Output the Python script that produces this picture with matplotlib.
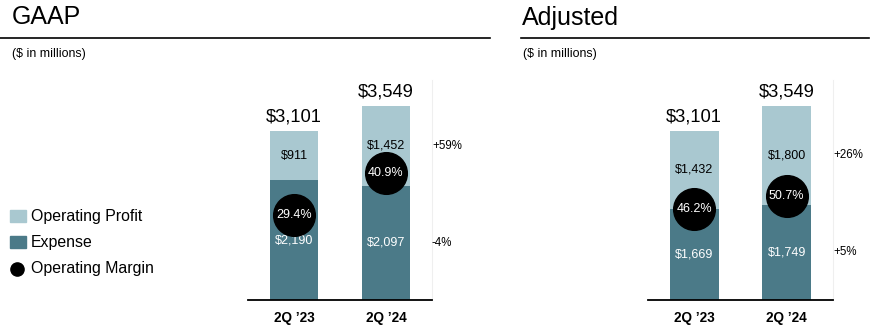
import matplotlib
matplotlib.use("Agg")
import matplotlib.pyplot as plt
from matplotlib.patches import Rectangle
from matplotlib.lines import Line2D

plt.rcParams["font.family"] = ["Liberation Sans", "DejaVu Sans"]

# data
quarters = ["2Q \u201923", "2Q \u201924"]

gaap_expense = [2190, 2097]
gaap_profit = [911, 1452]
gaap_margin = [29.4, 40.9]
gaap_change = ["+59%", "-4%"]  # profit, expense

adj_expense = [1669, 1749]
adj_profit = [1432, 1800]
adj_margin = [46.2, 50.7]
adj_change = ["+26%", "+5%"]

LIGHT = "#A9C8D0"
DARK = "#4B7A88"

W, H = 877, 330
fig = plt.figure(figsize=(W / 100, H / 100), dpi=100)


def fx(px):
    return px / W


def fy(py):
    return 1 - py / H


def draw_panel(left_px, right_px, expense, profit, margin, change, margin_lim):
    ax = fig.add_axes([fx(left_px), fy(300), fx(right_px - left_px), fy(80) - fy(300)])
    x = list(range(len(quarters)))
    ax.bar(x, expense, width=0.525, color=DARK)
    ax.bar(x, profit, bottom=expense, width=0.525, color=LIGHT)
    ax.set_xlim(-0.5, 1.5)
    ax.set_ylim(0, 4030)

    for i in x:
        total = expense[i] + profit[i]
        ax.annotate(f"${total:,}", (i, total), xytext=(0, 4), textcoords="offset points",
                    ha="center", va="bottom", fontsize=13.2)
        ax.text(i, expense[i] / 2, f"${expense[i]:,}", ha="center", va="center",
                color="white", fontsize=9)
        ax.text(i, expense[i] + profit[i] / 2, f"${profit[i]:,}", ha="center", va="center",
                color="black", fontsize=9)

    # change labels next to the second bar
    last = len(quarters) - 1
    ax.text(1.5, expense[last] + profit[last] / 2, change[0], ha="left", va="center",
            fontsize=8.3, clip_on=False)
    ax.text(1.5, expense[last] / 2, change[1], ha="left", va="center",
            fontsize=8.3, clip_on=False)

    ax.set_xticks(x)
    ax.set_xticklabels(quarters, fontsize=9.8, fontweight="bold")
    ax.tick_params(axis="x", length=0, pad=8)
    ax.set_yticks([])
    for s in ["top", "left"]:
        ax.spines[s].set_visible(False)
    ax.spines["right"].set_color("#EFEFEF")
    ax.spines["right"].set_linewidth(0.8)
    ax.spines["bottom"].set_linewidth(1.3)

    # margin circles on a twin scale
    ax2 = ax.twinx()
    ax2.set_ylim(*margin_lim)
    ax2.set_axis_off()
    ax2.scatter(x, margin, s=900, color="black", zorder=5)
    for i in x:
        ax2.text(i, margin[i], f"{margin[i]}%", ha="center", va="center",
                 color="white", fontsize=9, zorder=6)
    return ax


draw_panel(248, 432, gaap_expense, gaap_profit, gaap_margin, gaap_change,
           (6.13, 6.13 + 4030 / 66.9))
draw_panel(648, 833, adj_expense, adj_profit, adj_margin, adj_change,
           (14.7, 14.7 + 4030 / 52.9))

# headers
fig.text(fx(12), fy(24.5), "GAAP", fontsize=18, va="baseline", ha="left")
fig.text(fx(522), fy(24.5), "Adjusted", fontsize=18, va="baseline", ha="left")
fig.add_artist(Line2D([fx(0), fx(490)], [fy(38), fy(38)], color="black", lw=1.2))
fig.add_artist(Line2D([fx(521), fx(869)], [fy(38), fy(38)], color="black", lw=1.2))
fig.text(fx(12), fy(56.5), "($ in millions)", fontsize=8.9, va="baseline", ha="left")
fig.text(fx(523), fy(56.5), "($ in millions)", fontsize=8.9, va="baseline", ha="left")

# legend
fig.add_artist(Rectangle((fx(10), fy(222)), fx(16), 12 / H, color=LIGHT,
                         transform=fig.transFigure))
fig.add_artist(Rectangle((fx(10), fy(248)), fx(16), 12 / H, color=DARK,
                         transform=fig.transFigure))
fig.add_artist(Line2D([fx(17)], [fy(269)], marker="o", markersize=9.5,
                      color="black", linestyle="none", transform=fig.transFigure))
for label, ypx in [("Operating Profit", 216), ("Expense", 242), ("Operating Margin", 269)]:
    fig.text(fx(31), fy(ypx), label, fontsize=11.4, va="center", ha="left")

fig.savefig("out.png", dpi=100)
